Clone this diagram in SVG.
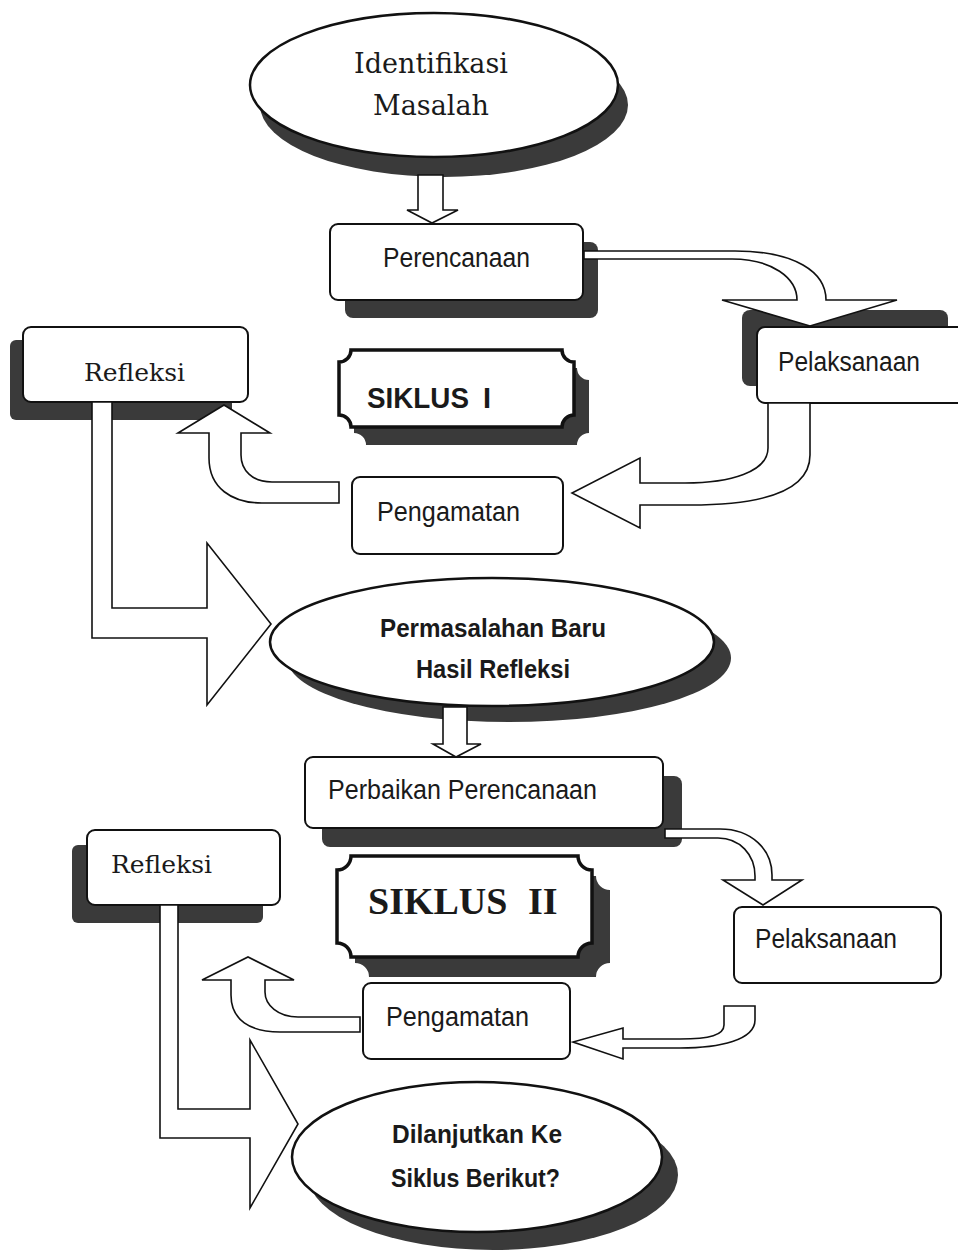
<svg xmlns="http://www.w3.org/2000/svg" width="958" height="1253" viewBox="0 0 958 1253">
<style>
.bg{fill:#ffffff}
.sh{fill:#3a3a3a;stroke:none}
.box{fill:#ffffff;stroke:#111;stroke-width:2}
.ell{fill:#ffffff;stroke:#111;stroke-width:2.5}
.plq{fill:#ffffff;stroke:#111;stroke-width:3.5}
.arr{fill:#ffffff;stroke:#111;stroke-width:1.6;stroke-linejoin:miter}
.serif{font-family:"DejaVu Serif","Liberation Serif",serif;fill:#1a1a1a}
.sans{font-family:"Liberation Sans",Arial,sans-serif;font-size:27px;fill:#1a1a1a}
.sansb{font-family:"Liberation Sans",Arial,sans-serif;font-size:26px;font-weight:bold;fill:#1a1a1a}
</style>
<rect class="bg" x="0" y="0" width="958" height="1253"/>

<g id="identifikasi">
<ellipse class="sh" cx="444" cy="105" rx="184" ry="72"/>
<ellipse class="ell" cx="434" cy="85" rx="184" ry="72"/>
<text class="serif" font-size="27" text-anchor="middle" x="431" y="73">Identifikasi</text>
<text class="serif" font-size="27" text-anchor="middle" x="431" y="115">Masalah</text>
</g>

<g id="perencanaan">
<rect class="sh" x="345" y="242" width="253" height="76" rx="8"/>
<rect class="box" x="330" y="224" width="253" height="76" rx="8"/>
<text class="sans" x="383" y="267" textLength="147" lengthAdjust="spacingAndGlyphs">Perencanaan</text>
</g>

<g id="pelaksanaan1">
<rect class="sh" x="742" y="310" width="206" height="76" rx="8"/>
<rect class="box" x="757" y="327" width="215" height="76" rx="8"/>
<text class="sans" x="778" y="371" textLength="142" lengthAdjust="spacingAndGlyphs">Pelaksanaan</text>
</g>

<g id="refleksi1">
<rect class="sh" x="10" y="340" width="222" height="80" rx="6"/>
<rect class="box" x="23" y="327" width="225" height="75" rx="8"/>
<text class="serif" font-size="25" x="84" y="381">Refleksi</text>
</g>

<g id="siklus1">
<path class="sh" d="M366,368 H577 A12,12 0 0 0 589,380 V433 A12,12 0 0 0 577,445 H366 A12,12 0 0 0 354,433 V380 A12,12 0 0 0 366,368 Z"/>
<path class="plq" d="M351,350 H562 A12,12 0 0 0 574,362 V415 A12,12 0 0 0 562,427 H351 A12,12 0 0 0 339,415 V362 A12,12 0 0 0 351,350 Z"/>
<text font-family="'Liberation Sans',Arial,sans-serif" font-weight="bold" font-size="29" fill="#1a1a1a" y="408"><tspan x="367" textLength="102" lengthAdjust="spacingAndGlyphs">SIKLUS</tspan><tspan x="483">I</tspan></text>
</g>

<g id="pengamatan1">
<rect class="box" x="352" y="477" width="211" height="77" rx="8"/>
<text class="sans" x="377" y="521" textLength="143" lengthAdjust="spacingAndGlyphs">Pengamatan</text>
</g>

<g id="permasalahan">
<ellipse class="sh" cx="509" cy="658" rx="222" ry="64"/>
<ellipse class="ell" cx="492" cy="642" rx="222" ry="64"/>
<text class="sansb" x="380" y="637" textLength="226" lengthAdjust="spacingAndGlyphs">Permasalahan Baru</text>
<text class="sansb" x="416" y="678" textLength="154" lengthAdjust="spacingAndGlyphs">Hasil Refleksi</text>
</g>

<g id="perbaikan">
<rect class="sh" x="322" y="776" width="360" height="71" rx="8"/>
<rect class="box" x="305" y="757" width="358" height="71" rx="8"/>
<text class="sans" x="328" y="799" textLength="269" lengthAdjust="spacingAndGlyphs">Perbaikan Perencanaan</text>
</g>

<g id="refleksi2">
<rect class="sh" x="72" y="845" width="191" height="78" rx="6"/>
<rect class="box" x="87" y="830" width="193" height="75" rx="8"/>
<text class="serif" font-size="25" x="111" y="873">Refleksi</text>
</g>

<g id="siklus2">
<path class="sh" d="M369,876 H596 A14,14 0 0 0 610,890 V963 A14,14 0 0 0 596,977 H369 A14,14 0 0 0 355,963 V890 A14,14 0 0 0 369,876 Z"/>
<path class="plq" d="M351,856 H578 A14,14 0 0 0 592,870 V943 A14,14 0 0 0 578,957 H351 A14,14 0 0 0 337,943 V870 A14,14 0 0 0 351,856 Z"/>
<text font-family="'Liberation Serif','Times New Roman',serif" font-weight="bold" font-size="38" fill="#1a1a1a" y="914"><tspan x="368">SIKLUS</tspan><tspan x="528">II</tspan></text>
</g>

<g id="pelaksanaan2">
<rect class="box" x="734" y="907" width="207" height="76" rx="8"/>
<text class="sans" x="755" y="948" textLength="142" lengthAdjust="spacingAndGlyphs">Pelaksanaan</text>
</g>

<g id="pengamatan2">
<rect class="box" x="363" y="983" width="207" height="76" rx="8"/>
<text class="sans" x="386" y="1026" textLength="143" lengthAdjust="spacingAndGlyphs">Pengamatan</text>
</g>

<g id="dilanjutkan">
<ellipse class="sh" cx="493" cy="1175" rx="185" ry="75"/>
<ellipse class="ell" cx="477" cy="1157" rx="185" ry="75"/>
<text class="sansb" x="392" y="1143" textLength="170" lengthAdjust="spacingAndGlyphs">Dilanjutkan Ke</text>
<text class="sansb" x="391" y="1187" textLength="169" lengthAdjust="spacingAndGlyphs">Siklus Berikut?</text>
</g>

<g id="connectors">
<path class="arr" d="M418,175 V210 H407 L432,223 L458,210 H443 V175 Z"/>
<path class="arr" d="M584,251 H735 C795,251 826,272 826,300 H897 L810,326 L722,300 H797 C797,278 772,259 732,259 H584 Z"/>
<path class="arr" d="M768,403 V448 C768,472 730,483 685,483 H640 V458 L572,493 L640,528 V505 H690 C765,505 810,490 810,455 V403 Z"/>
<path class="arr" d="M339,482 H272 C252,482 241,470 241,455 V433 H270 L224,405 L178,433 H209 V458 C209,488 232,503 262,503 H339 Z"/>
<path class="arr" d="M92,402 V638 H207 V705 L271,624 L207,543 V608 H112 V402 Z"/>
<path class="arr" d="M443,707 V744 H433 L456,757 L481,744 H467 V707 Z"/>
<path class="arr" d="M665,829 H720 C752,829 772,850 772,875 V880 H802 L763,905 L723,880 H755 V876 C755,855 740,838 718,838 H665 Z"/>
<path class="arr" d="M724,1006 H755 V1020 C755,1040 720,1048 680,1048 H623 V1059 L573,1042 L623,1028 V1039 H680 C710,1039 724,1035 724,1025 Z"/>
<path class="arr" d="M360,1017 H298 C278,1017 265,1005 265,992 V980 H294 L248,957 L202,980 H231 V995 C231,1020 250,1032 280,1032 H360 Z"/>
<path class="arr" d="M160,905 V1138 H250 V1208 L298,1124 L250,1040 V1109 H178 V905 Z"/>
</g>
</svg>
